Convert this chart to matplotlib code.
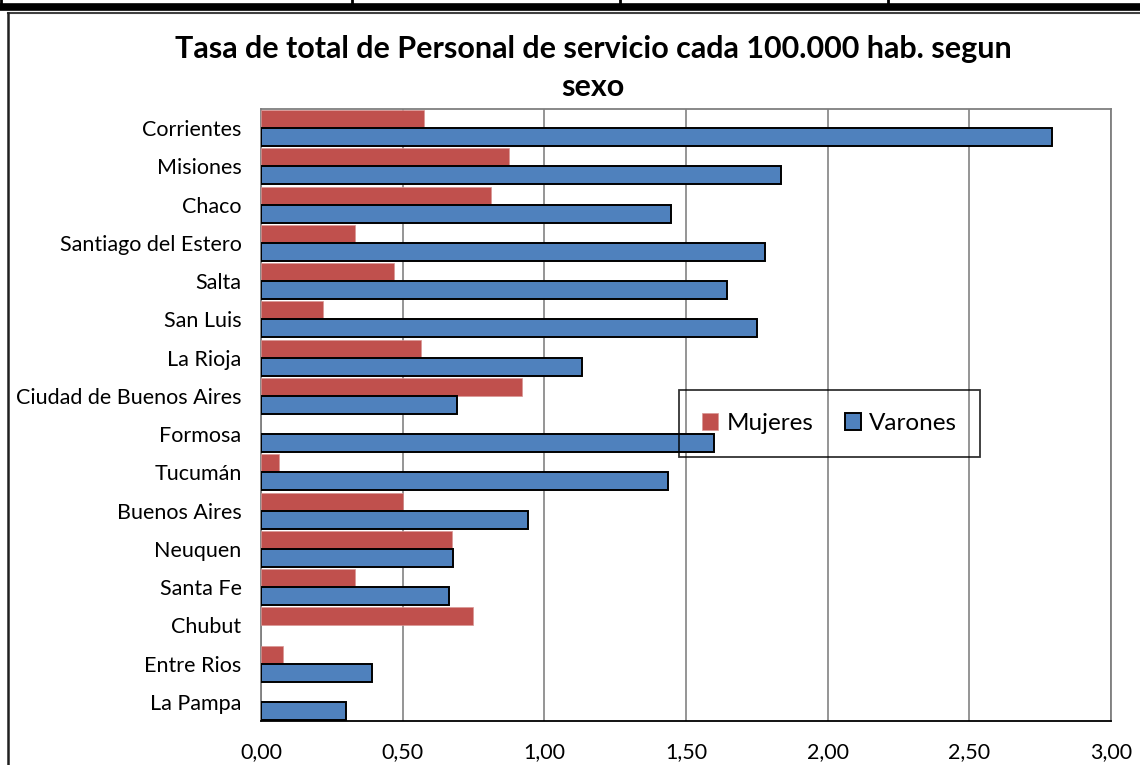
import matplotlib
matplotlib.use("Agg")
import matplotlib.pyplot as plt
from matplotlib.lines import Line2D
import numpy as np

plt.rcParams['font.family'] = ['Lato', 'DejaVu Sans']

provincias = ["Corrientes", "Misiones", "Chaco", "Santiago del Estero", "Salta",
              "San Luis", "La Rioja", "Ciudad de Buenos Aires", "Formosa", "Tucumán",
              "Buenos Aires", "Neuquen", "Santa Fe", "Chubut", "Entre Rios", "La Pampa"]
mujeres = [0.577, 0.874, 0.813, 0.333, 0.47, 0.218, 0.566, 0.921, 0.0, 0.064,
           0.50, 0.674, 0.332, 0.747, 0.078, 0.0]
varones = [2.792, 1.835, 1.447, 1.78, 1.644, 1.75, 1.134, 0.69, 1.60, 1.437,
           0.943, 0.677, 0.665, 0.0, 0.392, 0.30]
x_ticks = [0.0, 0.5, 1.0, 1.5, 2.0, 2.5, 3.0]

W, H = 1140, 765
fig = plt.figure(figsize=(W / 100, H / 100), dpi=100)

def fx(px):
    return px / W

def fy(py):
    return 1 - py / H

# bordes de la planilla y del grafico
fig.add_artist(Line2D([0, 1], [fy(6.5), fy(6.5)], color="black", lw=5.5, transform=fig.transFigure))
for xv in [1, 352, 620, 888]:
    fig.add_artist(Line2D([fx(xv), fx(xv)], [fy(0), fy(6)], color="black", lw=2, transform=fig.transFigure))
fig.add_artist(Line2D([fx(8), 1], [fy(13), fy(13)], color="#404040", lw=1.5, transform=fig.transFigure))
fig.add_artist(Line2D([fx(8), fx(8)], [fy(13), 0], color="#202020", lw=1.8, transform=fig.transFigure))
fig.text(fx(1013), fy(0), ",", fontsize=6, ha="center", va="top")

ax = fig.add_axes([fx(261), fy(721), fx(1111) - fx(261), fy(109) - fy(721)])

y = np.arange(len(provincias))
h = 0.47
ax.barh(y - h / 2, mujeres, height=h, color="#C0504D", edgecolor="#D99694",
        linewidth=[0.5 if v > 0 else 0 for v in mujeres], label="Mujeres", zorder=3)
ax.barh(y + h / 2, varones, height=h, color="#4F81BD", edgecolor="black",
        linewidth=[1.4 if v > 0 else 0 for v in varones], label="Varones", zorder=3)

ax.set_ylim(len(provincias) - 0.5, -0.5)
ax.set_xlim(0, 3)
ax.set_yticks(y)
ax.set_yticklabels(provincias, fontsize=15.5)
ax.set_xticks(x_ticks)
ax.set_xticklabels([f"{v:.2f}".replace(".", ",") for v in x_ticks], fontsize=15.5)
ax.tick_params(axis="both", length=0)
ax.tick_params(axis="x", pad=15)
ax.tick_params(axis="y", pad=14)
ax.grid(axis="x", color="#8C8C8C", lw=1.3, zorder=0)

for s in ["top", "right", "left"]:
    ax.spines[s].set_color("#7F7F7F")
    ax.spines[s].set_linewidth(1.3)
ax.spines["bottom"].set_color("black")
ax.spines["bottom"].set_linewidth(1.3)

leg = ax.legend(loc="center", bbox_to_anchor=((680 + 979) / 2 / 850 - 261 / 850, (721 - 423.5) / 612),
                ncol=2, fontsize=17.5, frameon=True, fancybox=False, handlelength=0.65,
                handleheight=0.65, handletextpad=0.35, columnspacing=1.3, borderpad=0.95,
                borderaxespad=0)
leg.get_frame().set_facecolor("none")
leg.get_frame().set_edgecolor("black")
leg.get_frame().set_linewidth(1.3)
leg.set_zorder(5)

fig.text(fx(593), fy(68), "Tasa de total de Personal de servicio cada 100.000 hab. segun\nsexo",
         ha="center", va="center", fontsize=22, fontweight="bold", linespacing=1.4)

fig.savefig("out.png", dpi=100)
